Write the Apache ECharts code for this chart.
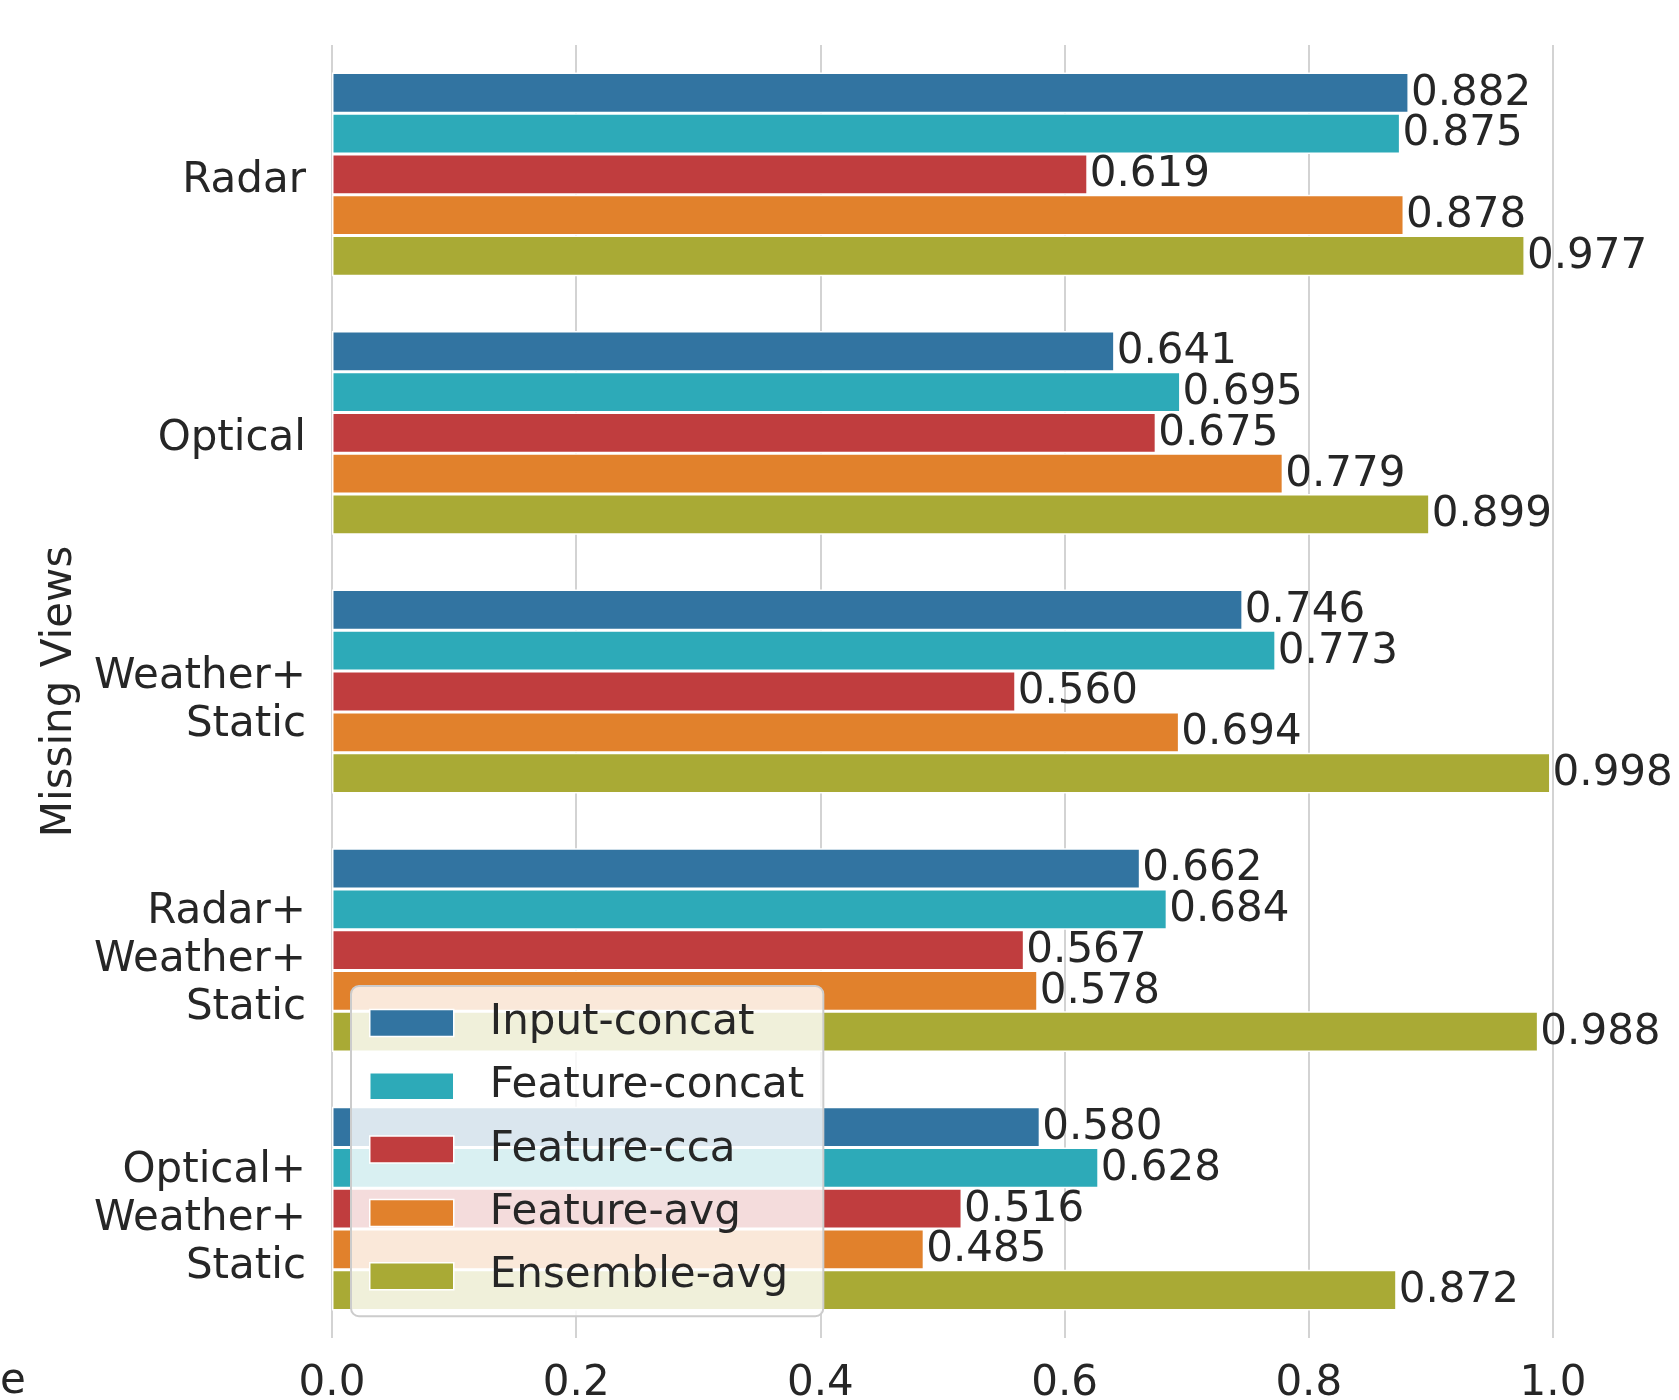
<!DOCTYPE html>
<html>
<head>
<meta charset="utf-8">
<script src="https://cdn.jsdelivr.net/npm/echarts@6/dist/echarts.min.js"></script>
<style>
html,body{margin:0;padding:0;background:#fff;}
#chart{width:1679px;height:1400px;}
</style>
</head>
<body>
<div id="chart"></div>
<script>
const categories = ['Radar', 'Optical', 'Weather+\nStatic', 'Radar+\nWeather+\nStatic', 'Optical+\nWeather+\nStatic'];
const seriesNames = ['Input-concat', 'Feature-concat', 'Feature-cca', 'Feature-avg', 'Ensemble-avg'];
const inputConcat   = [0.882, 0.641, 0.746, 0.662, 0.580];
const featureConcat = [0.875, 0.695, 0.773, 0.684, 0.628];
const featureCca    = [0.619, 0.675, 0.560, 0.567, 0.516];
const featureAvg    = [0.878, 0.779, 0.694, 0.578, 0.485];
const ensembleAvg   = [0.977, 0.899, 0.998, 0.988, 0.872];
const xTicks = [0.0, 0.2, 0.4, 0.6, 0.8, 1.0];
const colors = ['#3274A1', '#2DAAB8', '#C03D3E', '#E1812C', '#A9AA35'];

const FONT = 'DejaVu Sans';
const TXT = '#262626';
const allValues = [inputConcat, featureConcat, featureCca, featureAvg, ensembleAvg];

const chart = echarts.init(document.getElementById('chart'), null, {renderer: 'canvas'});
chart.setOption({
  animation: false,
  backgroundColor: '#ffffff',
  color: colors,
  textStyle: {fontFamily: FONT},
  grid: {left: 332, right: 126, top: 45, bottom: 62, containLabel: false, outerBoundsMode: 'none'},
  xAxis: {
    type: 'value',
    min: 0, max: 1, interval: 0.2,
    axisLine: {show: false},
    axisTick: {show: false},
    splitLine: {show: true, lineStyle: {color: '#d3d3d3', width: 2}},
    axisLabel: {
      fontSize: 42, color: TXT, fontFamily: FONT, margin: 25,
      formatter: v => { const t = xTicks.find(x => Math.abs(x - v) < 1e-9); return (t !== undefined ? t : v).toFixed(1); }
    }
  },
  yAxis: {
    type: 'category',
    data: categories,
    inverse: true,
    axisLine: {show: false},
    axisTick: {show: false},
    splitLine: {show: false},
    axisLabel: {
      fontSize: 42, color: TXT, fontFamily: FONT, margin: 26, lineHeight: 48, align: 'right',
      formatter: v => {
        const lines = v.split('\n');
        const spacer = lines.length > 1 ? '{s2|\u200b}' : '{s1|\u200b}';
        return spacer + '\n' + lines.map(s => '{l|' + s + '}').join('\n');
      },
      rich: {
        s1: {fontSize: 1, lineHeight: 13},
        s2: {fontSize: 1, lineHeight: 20},
        l: {fontSize: 42, color: TXT, fontFamily: FONT, lineHeight: 48, align: 'right'}
      }
    },
    name: 'Missing Views',
    nameLocation: 'middle',
    nameGap: 251,
    nameRotate: 90,
    nameTextStyle: {fontSize: 42, color: TXT, fontFamily: FONT}
  },
  legend: {
    orient: 'vertical',
    left: 351, top: 986,
    data: seriesNames,
    icon: 'rect',
    itemWidth: 84, itemHeight: 27,
    itemGap: 21.3,
    padding: [16, 19, 19, 18],
    backgroundColor: 'rgba(255,255,255,0.82)',
    borderColor: '#cccccc', borderWidth: 2, borderRadius: 8,
    textStyle: {fontSize: 42, color: TXT, fontFamily: FONT, lineHeight: 42, padding: [0, 0, 0, 31]},
    itemStyle: {borderColor: '#ffffff', borderWidth: 1.5}
  },
  graphic: [{
    type: 'text', left: 0, top: 1361, silent: true,
    style: {text: 'e', fontSize: 42, fontFamily: FONT, fill: TXT}
  }],
  series: seriesNames.map((name, i) => ({
    name: name,
    type: 'bar',
    data: allValues[i],
    barGap: '0%',
    barCategoryGap: '21.2%',
    itemStyle: {color: colors[i], borderColor: '#ffffff', borderWidth: 1.5},
    label: {
      show: true, position: 'right', distance: 2, offset: [0, 1],
      fontSize: 42, color: TXT, fontFamily: FONT,
      formatter: p => p.value.toFixed(3)
    }
  }))
});
</script>
</body>
</html>
